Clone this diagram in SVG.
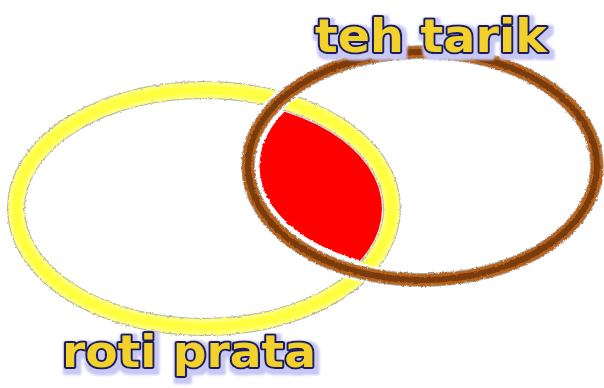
<svg xmlns="http://www.w3.org/2000/svg" width="604" height="388" viewBox="0 0 604 388">
  <style>
    .lbl { font-family: "DejaVu Sans", "Liberation Sans", sans-serif; font-weight: bold; fill: #f2d22a; stroke: #1c1c66; stroke-width: 4; stroke-linejoin: round; paint-order: stroke; filter: url(#glow); }
    .ringEdge { fill: none; stroke: #b0b0b0; }
  </style>
  <defs>
    <filter id="rough" x="-5%" y="-5%" width="110%" height="110%">
      <feTurbulence type="fractalNoise" baseFrequency="0.35" numOctaves="2" seed="3" result="n"/>
      <feDisplacementMap in="SourceGraphic" in2="n" scale="3" xChannelSelector="R" yChannelSelector="G"/>
    </filter>
    <filter id="glow" x="-10%" y="-30%" width="120%" height="160%">
      <feMorphology in="SourceAlpha" operator="dilate" radius="3" result="d"/>
      <feOffset in="d" dx="2" dy="3" result="o"/>
      <feGaussianBlur in="o" stdDeviation="1" result="b"/>
      <feFlood flood-color="#c8c8f4"/>
      <feComposite in2="b" operator="in" result="g"/>
      <feMerge>
        <feMergeNode in="g"/>
        <feMergeNode in="SourceGraphic"/>
      </feMerge>
    </filter>
    <clipPath id="yellowInner">
      <ellipse cx="204" cy="208.5" rx="178" ry="108.5"/>
    </clipPath>
  </defs>
  <rect width="604" height="388" fill="#ffffff"/>

  <g id="intersection">
    <ellipse cx="422.5" cy="166" rx="163" ry="102" fill="#ff0000" clip-path="url(#yellowInner)" filter="url(#rough)"/>
  </g>

  <g id="roti-prata">
    <g filter="url(#rough)">
      <ellipse cx="204" cy="208.5" rx="188" ry="118.5" class="ringEdge" stroke-width="18"/>
      <ellipse cx="204" cy="208.5" rx="188" ry="118.5" fill="none" stroke="#ffff70" stroke-width="16"/>
      <ellipse cx="204" cy="208.5" rx="188" ry="118.5" fill="none" stroke="#ffff40" stroke-width="8"/>
    </g>
    <text class="lbl" x="62" y="367" font-size="44" textLength="254" lengthAdjust="spacingAndGlyphs">roti prata</text>
  </g>

  <g id="teh-tarik">
    <g filter="url(#rough)">
      <ellipse cx="422.5" cy="166" rx="174.5" ry="114" fill="none" stroke="#ffffff" stroke-width="18"/>
      <ellipse cx="422.5" cy="166" rx="174.5" ry="114" class="ringEdge" stroke-width="14"/>
      <ellipse cx="422.5" cy="166" rx="174.5" ry="114" fill="none" stroke="#b8641c" stroke-width="12"/>
      <ellipse cx="422.5" cy="166" rx="174.5" ry="114" fill="none" stroke="#7a3a08" stroke-width="6"/>
    </g>
    <text class="lbl" x="315" y="52" font-size="46" textLength="232" lengthAdjust="spacingAndGlyphs">teh tarik</text>
  </g>
</svg>
